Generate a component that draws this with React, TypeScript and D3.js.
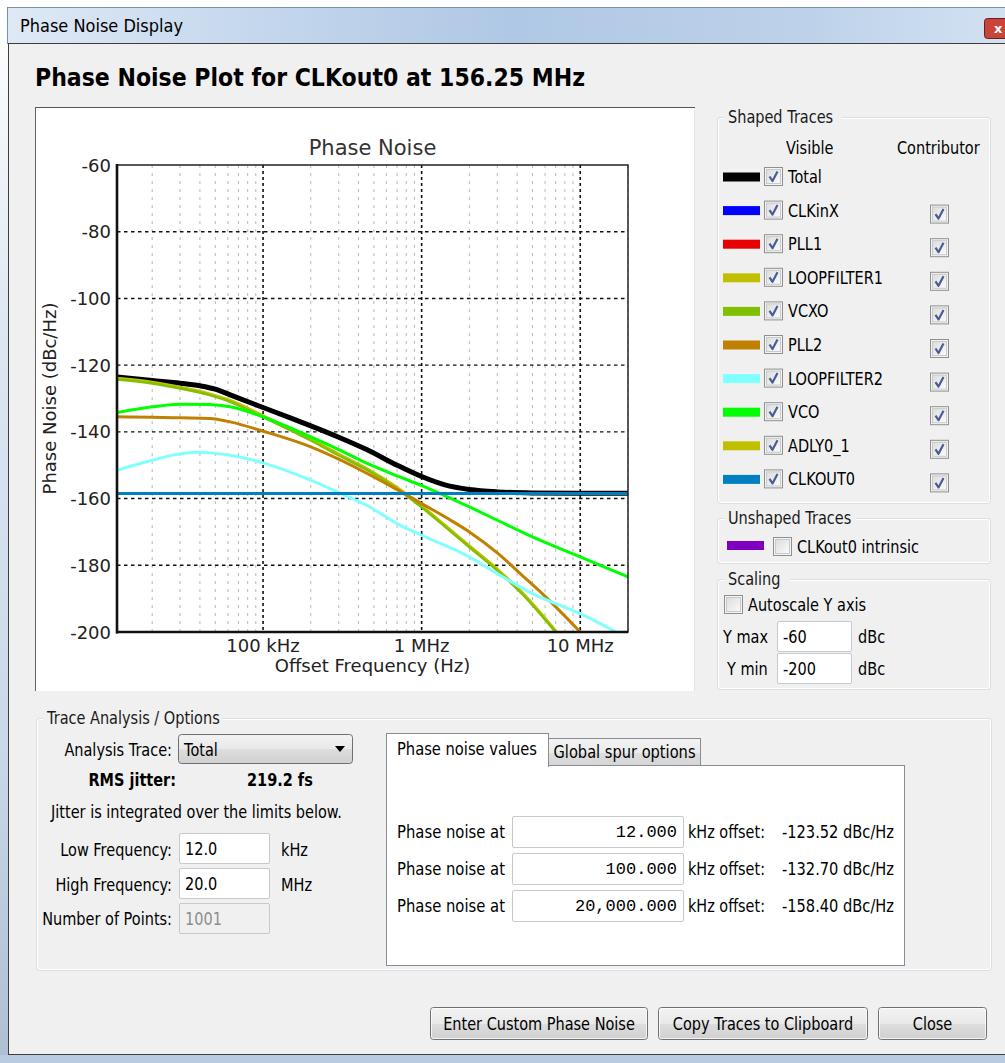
import React from "react";
import * as d3 from "d3";

// ---- Plot data (offset frequency in Hz, phase noise in dBc/Hz) ----
const xDomain = [12e3, 20e6];
const yDomain = [-200, -60];
const yTicks = [-60, -80, -100, -120, -140, -160, -180, -200];
const xMajorTicks = [1e5, 1e6, 1e7];
const xMajorLabels = ["100 kHz", "1 MHz", "10 MHz"];

const totalFreq = [12e3, 20e3, 30e3, 40e3, 50e3, 65e3, 100e3, 150e3, 200e3, 300e3, 450e3, 700e3, 1e6, 1.4e6, 2e6, 3e6, 5e6, 10e6, 20e6];
const totalDb = [-123.52, -124.6, -125.4, -126.2, -127.2, -129.3, -132.7, -135.9, -138.2, -141.6, -145.3, -150.0, -153.4, -155.9, -157.3, -158.0, -158.3, -158.4, -158.4];

const loopFilter1Freq = [12e3, 20e3, 30e3, 46e3, 62e3, 100e3, 200e3, 300e3, 450e3, 700e3, 1e6, 1.4e6, 2e6, 3e6, 4.3e6, 7e6];
const loopFilter1Db = [-123.9, -125.1, -126.6, -128.6, -130.6, -135.2, -142.2, -146.7, -151.0, -156.7, -162.2, -168.0, -174.2, -181.2, -188.2, -199.7];

const vcxoFreq = [12e3, 20e3, 30e3, 46e3, 62e3, 100e3, 200e3, 300e3, 450e3, 700e3, 1e6, 1.4e6, 2e6, 3e6, 4.3e6, 7e6];
const vcxoDb = [-124.3, -125.5, -127.0, -129.0, -131.0, -135.6, -142.6, -147.1, -151.4, -157.1, -162.6, -168.4, -174.6, -181.6, -188.6, -200.1];

const pll2Freq = [12e3, 20e3, 30e3, 46e3, 62e3, 100e3, 200e3, 300e3, 450e3, 700e3, 1e6, 1.5e6, 2e6, 3e6, 4.3e6, 6e6, 10e6];
const pll2Db = [-135.5, -135.6, -135.8, -136.0, -137.0, -139.8, -144.5, -148.2, -152.4, -157.3, -161.5, -166.3, -170.0, -176.3, -183.0, -189.3, -200.0];

const loopFilter2Freq = [12e3, 20e3, 30e3, 38e3, 46e3, 62e3, 100e3, 200e3, 300e3, 450e3, 700e3, 1e6, 2e6, 3e6, 5e6, 10e6, 16.8e6];
const loopFilter2Db = [-151.5, -148.5, -146.6, -146.1, -146.3, -147.0, -149.3, -154.5, -158.2, -162.0, -167.5, -171.0, -177.5, -182.5, -188.5, -194.5, -200.0];

const vcoFreq = [12e3, 20e3, 30e3, 46e3, 62e3, 100e3, 200e3, 300e3, 450e3, 700e3, 1e6, 2e6, 3e6, 5e6, 10e6, 20e6];
const vcoDb = [-134.2, -132.5, -131.7, -131.8, -132.5, -135.5, -141.5, -145.3, -149.4, -153.2, -156.1, -162.5, -166.5, -171.5, -177.5, -183.5];

const clkout0Freq = [12e3, 20e6];
const clkout0Db = [-158.5, -158.5];

// ---- Legend ----
const traceNames = ["Total", "CLKinX", "PLL1", "LOOPFILTER1", "VCXO", "PLL2", "LOOPFILTER2", "VCO", "ADLY0_1", "CLKOUT0"];
const traceColors = ["#000000", "#0000ff", "#e60000", "#c0c000", "#80c000", "#c08000", "#80ffff", "#00ff00", "#c0c000", "#0080c0"];
const traceContributor = [false, true, true, true, true, true, true, true, true, true];

// ---- Phase noise table ----
const pnOffsets = ["12.000", "100.000", "20,000.000"];
const pnValues = ["-123.52 dBc/Hz", "-132.70 dBc/Hz", "-158.40 dBc/Hz"];

const UI = "'DejaVu Sans', Verdana, sans-serif";
const PLOT = "'DejaVu Sans', Verdana, sans-serif";
const MONO = "'Liberation Mono', 'Courier New', monospace";

// Dialog text: slightly tall glyphs, scaled about the baseline.
function T({ x, y, children, size = 14.5, anchor = "start", weight = "normal", fill = "#000", sy = 1.16, family = UI, len }: any) {
  return (
    <text
      transform={`translate(${x},${y}) scale(1,${sy})`}
      textAnchor={anchor}
      fontFamily={family}
      fontSize={size}
      fontWeight={weight}
      fill={fill}
      {...(len ? { textLength: len, lengthAdjust: "spacingAndGlyphs" } : {})}
    >
      {children}
    </text>
  );
}

function CheckBox({ x, y, checked, size = 19 }: { x: number; y: number; checked: boolean; size?: number }) {
  return (
    <g>
      <rect x={x + 0.5} y={y + 0.5} width={size - 1} height={size - 1} fill="#f4f4f4" stroke="#8e8f8f" />
      <rect x={x + 2.5} y={y + 2.5} width={size - 5} height={size - 5} fill="url(#cbInner)" stroke="#c9c9c9" />
      {checked && (
        <path
          d={`M${x + 5.5} ${y + 9.5} L${x + 8.5} ${y + 14} L${x + 13.5} ${y + 4.5}`}
          stroke="#4a5c94"
          strokeWidth={2.2}
          fill="none"
          strokeLinejoin="round"
        />
      )}
    </g>
  );
}

function TextBox({ x, y, w, h, text, align = "start", disabled = false, mono = false }: any) {
  return (
    <g>
      <rect x={x + 0.5} y={y + 0.5} width={w - 1} height={h - 1} fill={disabled ? "#f0f0f0" : "#ffffff"} stroke={disabled ? "#c9c9c9" : "#c5c9d0"} rx={1.5} />
      {mono ? (
        <text x={x + w - 7} y={y + h / 2 + 5} textAnchor="end" fontFamily={MONO} fontSize={17} fill="#000">
          {text}
        </text>
      ) : (
        <T x={align === "end" ? x + w - 5 : x + 6} y={y + h / 2 + 6} anchor={align} fill={disabled ? "#8d8d8d" : "#000"}>
          {text}
        </T>
      )}
    </g>
  );
}

function GroupBox({ x, y, w, h, title, titleW }: any) {
  return (
    <g>
      <rect x={x + 0.5} y={y + 0.5} width={w - 1} height={h - 1} rx={3} fill="none" stroke="#d5dfe5" />
      <rect x={x + 1.5} y={y + 1.5} width={w - 3} height={h - 3} rx={2.5} fill="none" stroke="#ffffff" />
      <rect x={x + 7} y={y - 9} width={titleW} height={16} fill="#f0f0f0" />
      <T x={x + 11} y={y + 6} fill="#1a1a1a">
        {title}
      </T>
    </g>
  );
}

function Button({ x, y, w, h, label }: any) {
  return (
    <g>
      <rect x={x + 0.5} y={y + 0.5} width={w - 1} height={h - 1} rx={3} fill="url(#btnFill)" stroke="#707070" />
      <rect x={x + 1.5} y={y + 1.5} width={w - 3} height={h - 3} rx={2} fill="none" stroke="#fcfcfc" strokeOpacity={0.8} />
      <T x={x + w / 2} y={y + h / 2 + 6} anchor="middle">
        {label}
      </T>
    </g>
  );
}

function PlotPanel() {
  const left = 117, right = 628, top = 165, bottom = 632;
  const x = d3.scaleLog().domain(xDomain).range([left, right]);
  const y = d3.scaleLinear().domain(yDomain).range([bottom, top]);
  const minorTicks = x.ticks().filter((t) => !xMajorTicks.some((m) => Math.abs(m - t) / m < 1e-6));

  const line = d3
    .line<[number, number]>()
    .x((d) => x(d[0]))
    .y((d) => y(d[1]))
    .curve(d3.curveMonotoneX);
  const path = (f: number[], v: number[]) => line(f.map((fi, i) => [fi, v[i]] as [number, number])) || "";

  const traces = [
    { d: path(totalFreq, totalDb), color: traceColors[0], w: 5 },
    { d: path(loopFilter1Freq, loopFilter1Db), color: traceColors[3], w: 3 },
    { d: path(vcxoFreq, vcxoDb), color: traceColors[4], w: 2.4 },
    { d: path(pll2Freq, pll2Db), color: traceColors[5], w: 3 },
    { d: path(loopFilter2Freq, loopFilter2Db), color: traceColors[6], w: 3 },
    { d: path(vcoFreq, vcoDb), color: traceColors[7], w: 3 },
    { d: path(clkout0Freq, clkout0Db), color: traceColors[9], w: 3 },
  ];

  return (
    <g>
      <rect x={35} y={107} width={660} height={584} fill="#ffffff" />
      <line x1={35} y1={107.5} x2={695} y2={107.5} stroke="#555" />
      <line x1={35.5} y1={107} x2={35.5} y2={691} stroke="#666" />
      <line x1={694.5} y1={108} x2={694.5} y2={691} stroke="#e3e3e3" />

      <defs>
        <clipPath id="plotClip">
          <rect x={left} y={top} width={right - left} height={bottom - top} />
        </clipPath>
      </defs>

      <text x={(left + right) / 2} y={155} textAnchor="middle" fontFamily={PLOT} fontSize={21} fill="#333">
        Phase Noise
      </text>

      {/* minor vertical grid */}
      {minorTicks.map((t) => (
        <line key={"m" + t} x1={x(t)} x2={x(t)} y1={top} y2={bottom} stroke="#b8b8b8" strokeWidth={1} strokeDasharray="3,5" />
      ))}
      {/* horizontal grid */}
      {yTicks.slice(1, -1).map((t) => (
        <line key={"h" + t} x1={left} x2={right} y1={y(t)} y2={y(t)} stroke="#111" strokeWidth={1.4} strokeDasharray="3.5,3.5" />
      ))}
      {/* major vertical grid */}
      {xMajorTicks.map((t) => (
        <line key={"v" + t} x1={x(t)} x2={x(t)} y1={top} y2={bottom} stroke="#111" strokeWidth={1.6} strokeDasharray="3,3" />
      ))}

      <g clipPath="url(#plotClip)">
        {traces.map((t, i) => (
          <path key={i} d={t.d} fill="none" stroke={t.color} strokeWidth={t.w} strokeLinejoin="round" strokeLinecap="round" />
        ))}
      </g>

      {/* frame */}
      <rect x={left} y={top} width={right - left} height={bottom - top} fill="none" stroke="#222" strokeWidth={1.5} />
      <line x1={left} x2={left} y1={top - 1} y2={bottom + 1.5} stroke="#111" strokeWidth={2.6} />
      <line x1={left - 1} x2={right} y1={bottom} y2={bottom} stroke="#111" strokeWidth={2.6} />

      {yTicks.map((t) => (
        <text key={"yl" + t} x={111} y={y(t) + 6.5} textAnchor="end" fontFamily={PLOT} fontSize={18} fill="#222">
          {t}
        </text>
      ))}
      {xMajorTicks.map((t, i) => (
        <text key={"xl" + t} x={x(t)} y={652} textAnchor="middle" fontFamily={PLOT} fontSize={18} fill="#222">
          {xMajorLabels[i]}
        </text>
      ))}
      <text x={(left + right) / 2} y={672} textAnchor="middle" fontFamily={PLOT} fontSize={18} fill="#222">
        Offset Frequency (Hz)
      </text>
      <text transform={`translate(56, ${(top + bottom) / 2}) rotate(-90)`} textAnchor="middle" fontFamily={PLOT} fontSize={18} fill="#222">
        Phase Noise (dBc/Hz)
      </text>
    </g>
  );
}

function LegendPanel() {
  const rowY = (i: number) => 177 + i * 33.6;
  return (
    <g>
      <GroupBox x={717} y={117} w={274} h={387} title="Shaped Traces" titleW={118} />
      <T x={786} y={154}>Visible</T>
      <T x={897} y={154}>Contributor</T>
      {traceNames.map((name, i) => {
        const cy = rowY(i);
        return (
          <g key={name}>
            <rect x={723} y={cy - 4.5} width={37} height={9} fill={traceColors[i]} />
            <CheckBox x={764} y={cy - 10} checked={true} />
            <T x={788} y={cy + 6}>{name}</T>
            {traceContributor[i] && <CheckBox x={930} y={cy - 10 + 4} checked={true} />}
          </g>
        );
      })}

      <GroupBox x={717} y={518} w={274} h={46} title="Unshaped Traces" titleW={132} />
      <rect x={727} y={541} width={37} height={9} fill="#8000c0" />
      <CheckBox x={773} y={537} checked={false} />
      <T x={797} y={553}>CLKout0 intrinsic</T>

      <GroupBox x={717} y={579} w={274} h={111} title="Scaling" titleW={66} />
      <CheckBox x={724} y={595} checked={false} />
      <T x={748} y={611}>Autoscale Y axis</T>
      <T x={723} y={643}>Y max</T>
      <TextBox x={777} y={621} w={75} h={31} text="-60" />
      <T x={858} y={643}>dBc</T>
      <T x={727} y={675}>Y min</T>
      <TextBox x={777} y={653} w={75} h={31} text="-200" />
      <T x={858} y={675}>dBc</T>
    </g>
  );
}

function AnalysisPanel() {
  const rowCy = [832, 869, 906];
  return (
    <g>
      <GroupBox x={36} y={718} w={956} h={253} title="Trace Analysis / Options" titleW={180} />

      <T x={172} y={756} anchor="end">Analysis Trace:</T>
      <rect x={178.5} y={734.5} width={174} height={29} rx={3} fill="url(#btnFill)" stroke="#707070" />
      <T x={184} y={756}>Total</T>
      <path d="M335 746 L345 746 L340 752 Z" fill="#000" />

      <T x={176} y={786} anchor="end" weight="bold">RMS jitter:</T>
      <T x={247} y={786} weight="bold">219.2 fs</T>
      <T x={51} y={818}>Jitter is integrated over the limits below.</T>

      <T x={172} y={856} anchor="end">Low Frequency:</T>
      <TextBox x={179} y={833} w={91} h={31} text="12.0" />
      <T x={281} y={856}>kHz</T>
      <T x={172} y={891} anchor="end">High Frequency:</T>
      <TextBox x={179} y={868} w={91} h={31} text="20.0" />
      <T x={281} y={891}>MHz</T>
      <T x={172} y={925} anchor="end">Number of Points:</T>
      <TextBox x={179} y={903} w={91} h={31} text="1001" disabled />

      {/* tab widget */}
      <rect x={548.5} y={738.5} width={152} height={28} fill="url(#tabFill)" stroke="#898c95" />
      <T x={624.5} y={758} anchor="middle" len={142}>Global spur options</T>
      <rect x={386.5} y={765.5} width={518} height={200} fill="#ffffff" stroke="#898c95" />
      <rect x={386.5} y={733.5} width={162} height={33} fill="#ffffff" stroke="#898c95" />
      <rect x={387} y={764} width={161} height={3} fill="#ffffff" />
      <T x={397} y={755} len={140}>Phase noise values</T>

      {pnOffsets.map((v, i) => (
        <g key={v}>
          <T x={397} y={rowCy[i] + 6} len={108}>Phase noise at</T>
          <TextBox x={512} y={rowCy[i] - 16} w={172} h={32} text={v} align="end" mono />
          <T x={688} y={rowCy[i] + 6} len={77}>kHz offset:</T>
          <T x={782} y={rowCy[i] + 6} len={112}>{pnValues[i]}</T>
        </g>
      ))}
    </g>
  );
}

export default function App() {
  const W = 1005, H = 1063;
  return (
    <div style={{ position: "absolute", left: 0, top: 0 }}>
      <svg width={W} height={H} viewBox={`0 0 ${W} ${H}`} style={{ display: "block" }}>
        <defs>
          <linearGradient id="titleGrad" x1="0" x2="1" y1="0" y2="0">
            <stop offset="0" stopColor="#dfe9f5" />
            <stop offset="0.25" stopColor="#c4d7ed" />
            <stop offset="0.5" stopColor="#afc8e5" />
            <stop offset="0.8" stopColor="#bdd2ea" />
            <stop offset="1" stopColor="#d3e2f2" />
          </linearGradient>
          <linearGradient id="btnFill" x1="0" x2="0" y1="0" y2="1">
            <stop offset="0" stopColor="#f3f3f3" />
            <stop offset="0.5" stopColor="#e9e9e9" />
            <stop offset="0.52" stopColor="#dddddd" />
            <stop offset="1" stopColor="#d0d0d0" />
          </linearGradient>
          <linearGradient id="tabFill" x1="0" x2="0" y1="0" y2="1">
            <stop offset="0" stopColor="#f3f3f3" />
            <stop offset="0.5" stopColor="#ebebeb" />
            <stop offset="0.52" stopColor="#dedede" />
            <stop offset="1" stopColor="#d4d4d4" />
          </linearGradient>
          <linearGradient id="cbInner" x1="0" x2="1" y1="0" y2="1">
            <stop offset="0" stopColor="#dcdcdc" />
            <stop offset="1" stopColor="#fbfbfb" />
          </linearGradient>
          <linearGradient id="frameGrad" x1="0" x2="0" y1="0" y2="1">
            <stop offset="0" stopColor="#ffffff" />
            <stop offset="0.3" stopColor="#dde7f2" />
            <stop offset="0.7" stopColor="#c9d8ea" />
            <stop offset="1" stopColor="#aebfd4" />
          </linearGradient>
        </defs>

        <rect x={0} y={0} width={W} height={H} fill="#ffffff" />
        {/* window frame */}
        <rect x={0} y={7} width={8} height={H - 7} fill="url(#frameGrad)" />
        <rect x={0} y={1055} width={W} height={8} fill="#b9cbe0" />
        <rect x={7.5} y={7.5} width={W} height={36} fill="url(#titleGrad)" stroke="#7d8fa6" />
        <T x={20} y={32} size={15} sy={1.12} len={163}>Phase Noise Display</T>
        <rect x={984.5} y={18.5} width={30} height={20} rx={3} fill="#c8453b" stroke="#6b1f1a" />
        <text x={994} y={33} fontFamily={UI} fontSize={13} fontWeight="bold" fill="#fff">x</text>

        {/* client area */}
        <rect x={8.5} y={43.5} width={W} height={1011} fill="#f0f0f0" stroke="#3d3d3d" />

        <T x={35} y={86} size={21} sy={1.14} weight="bold" len={550}>
          Phase Noise Plot for CLKout0 at 156.25 MHz
        </T>

        <PlotPanel />
        <LegendPanel />
        <AnalysisPanel />

        <Button x={430} y={1007} w={218} h={33} label="Enter Custom Phase Noise" />
        <Button x={658} y={1007} w={210} h={33} label="Copy Traces to Clipboard" />
        <Button x={878} y={1007} w={109} h={33} label="Close" />
      </svg>
    </div>
  );
}
